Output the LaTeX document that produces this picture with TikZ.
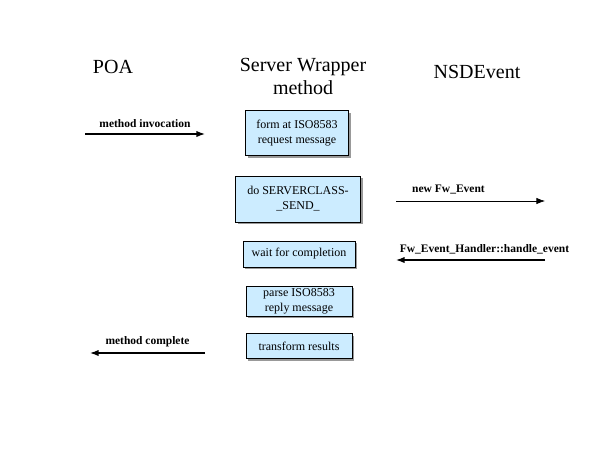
\documentclass[tikz,border=0pt]{standalone}
\usepackage{fontspec}
\setmainfont{Liberation Serif}
\usetikzlibrary{arrows.meta,positioning,shadows}
\definecolor{boxblue}{HTML}{CCECFF}

\begin{document}
\begin{tikzpicture}[
    x=1pt, y=-1pt,
    wrap/.style={draw, fill=boxblue, align=center, inner sep=1pt,
      font=\fontsize{12}{15}\selectfont,
      drop shadow={shadow xshift=2pt, shadow yshift=-2pt, fill=gray!80, opacity=1}},
    head/.style={align=center, font=\fontsize{20}{23}\selectfont},
    lbl/.style={font=\fontsize{11.5}{13}\selectfont\bfseries},
    call/.style={-{Latex[length=3mm, width=2.2mm]}, line width=1.3pt},
  ]
    \useasboundingbox (0,0) rectangle (598,448);
    % column heads
    \node[head] (poa) at (113,67) {POA};
    \node[head] (srv) at (303,76) {Server Wrapper\\method};
    \node[head] (nsd) at (477,72) {NSDEvent};
    % wrapper steps
    \node[wrap, minimum width=103pt, minimum height=45pt] (fmt) at (297,133) {form at ISO8583\\request message};
    \node[wrap, minimum width=125pt, minimum height=46pt] (send) at (298,199) {do SERVERCLASS-\\\_SEND\_};
    \node[wrap, minimum width=112pt, minimum height=26pt] (wait) at (299,254) {wait for completion};
    \node[wrap, minimum width=106pt, minimum height=30pt] (parse) at (299,301) {parse ISO8583\\reply message};
    \node[wrap, minimum width=106pt, minimum height=25pt] (xform) at (299,346) {transform results};
    % arrow ends
    \coordinate (inA) at (85,134);
    \coordinate (inB) at (205,134);
    \coordinate (newA) at (396,201);
    \coordinate (newB) at (545,201);
    \coordinate (hdlA) at (545,260);
    \coordinate (hdlB) at (396,260);
    \coordinate (outA) at (205,353);
    \coordinate (outB) at (90,353);
    \draw[call] (inA) -- node[lbl, above=2pt] {method invocation} (inB);
    \draw[call, line width=0.6pt] (newA) -- node[lbl, above=3pt, xshift=-22pt] {new Fw\_Event} (newB);
    \draw[call] (hdlA) -- node[lbl, above=2pt, xshift=14pt] {Fw\_Event\_Handler::handle\_event} (hdlB);
    \draw[call] (outA) -- node[lbl, above=2pt] {method complete} (outB);
  \end{tikzpicture}
\end{document}
